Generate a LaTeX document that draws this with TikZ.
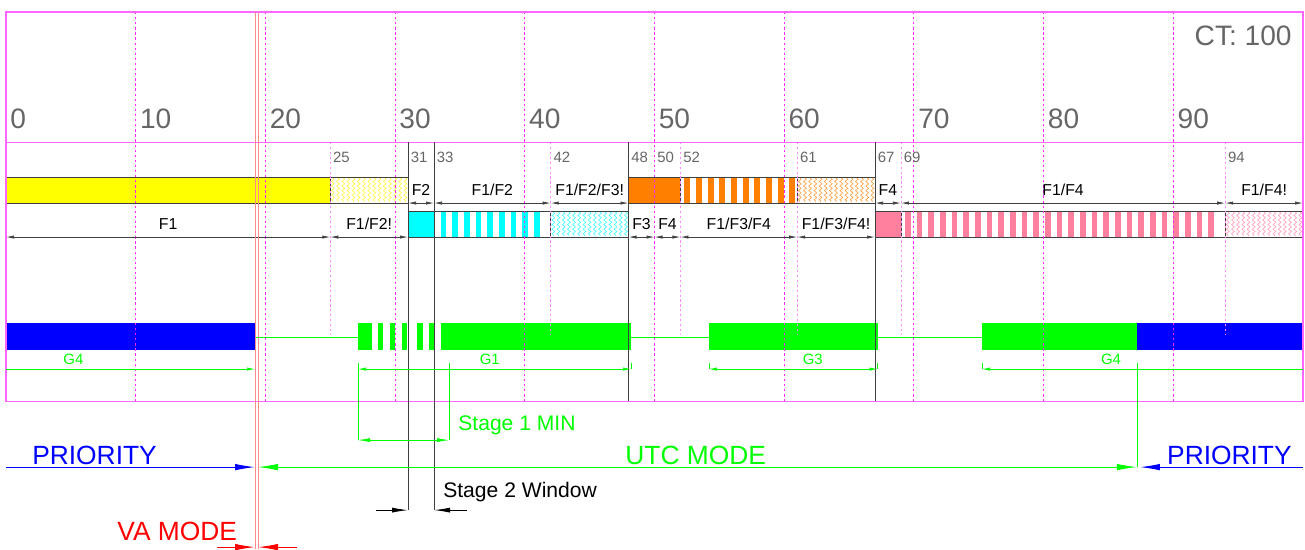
\documentclass[tikz,border=0pt]{standalone}
\usepackage{fontspec}
\setmainfont{Liberation Sans}
\usetikzlibrary{arrows.meta,decorations.pathmorphing}
\definecolor{ChartFrame}{HTML}{FF66FF}
\definecolor{ChartGrid}{HTML}{FF22FF}
\definecolor{ChartGridLight}{HTML}{FF88FF}
\definecolor{ChartEdge}{HTML}{404040}
\definecolor{ChartNum}{HTML}{666666}
\definecolor{PhYellow}{HTML}{FFFF00}
\definecolor{PhOrange}{HTML}{FF8000}
\definecolor{PhCyan}{HTML}{00FFFF}
\definecolor{PhPink}{HTML}{FF7F9F}
\definecolor{SigGreen}{HTML}{00FF00}
\definecolor{SigBlue}{HTML}{0000FF}
\definecolor{VaRed}{HTML}{FF0000}
\definecolor{VaLine}{HTML}{FF8A8A}
\newcommand{\ChartBig}{\fontsize{16}{18}\selectfont}
\newcommand{\ChartTick}{\fontsize{8.5}{10}\selectfont}
\newcommand{\ChartPhase}{\fontsize{9}{10.5}\selectfont}
\newcommand{\ChartGroup}{\fontsize{8.5}{10}\selectfont}
\newcommand{\ChartStage}{\fontsize{12}{14}\selectfont}
\newcommand{\ChartMode}{\fontsize{15}{17}\selectfont}
% #1 first stripe, #2 last index, #3 colour, #4 top edge
\newcommand{\StripeFill}[4]{%
  \foreach \s [evaluate=\s as \x using #1+0.9*\s] in {0,...,#2}
    \fill[#3] (\x,#4) rectangle ++(0.45,26);}
\newcommand{\HatchFill}[4]{%
  \foreach \s [evaluate=\s as \x using #1+0.4*\s] in {0,...,#2}
    \draw[hatchline=#3] (\x,#4+1) -- (\x,#4+25);}
\tikzset{
  chartframe/.style={draw=ChartFrame, line width=0.6pt},
  gridline/.style={draw=ChartGrid, line width=0.6pt, dash pattern=on 1.3pt off 1.6pt},
  gridlight/.style={draw=ChartGridLight, line width=0.5pt, dash pattern=on 1.2pt off 1.6pt},
  baredge/.style={draw=ChartEdge, line width=0.4pt},
  stageline/.style={draw=ChartEdge, line width=0.5pt},
  hatchline/.style={
    draw=#1!75,
    line width=0.35pt,
    decorate,
    decoration={zigzag, segment length=2.6pt, amplitude=0.8pt}
  },
  phasedim/.style={
    {Latex[length=1.6mm,width=0.65mm]}-{Latex[length=1.6mm,width=0.65mm]},
    draw=ChartEdge,
    line width=0.4pt
  },
  sigdim/.style={
    draw=SigGreen,
    line width=0.4pt,
    arrows={-Latex[length=1.6mm,width=0.65mm]}
  },
  sigline/.style={draw=SigGreen, line width=0.5pt},
  modearrow/.style={-{Latex[length=4mm,width=1.3mm]}, line width=0.6pt},
  stagearrow/.style={-{Latex[length=3.2mm,width=1mm]}, draw=black, line width=0.5pt},
  bignum/.style={font=\ChartBig, text=ChartNum, anchor=west, inner sep=0pt, xshift=0.08cm},
  ticknum/.style={font=\ChartTick, text=ChartNum, anchor=west, inner sep=0pt, xshift=0.05cm},
  phaselabel/.style={font=\ChartPhase, text=black, inner sep=0pt},
  grouplabel/.style={font=\ChartGroup, text=SigGreen, inner sep=0pt},
  stagelabel/.style={font=\ChartStage, anchor=base west, inner sep=0pt},
  modelabel/.style={font=\ChartMode, anchor=west, inner sep=0pt}
}

\begin{document}
\begin{tikzpicture}[x=0.2594cm,y=-0.02cm]
\useasboundingbox (-0.4626,0) rectangle (100.154,549);

% upper phase ring
\fill[PhYellow] (0,177) rectangle (25,203);
\HatchFill{25.2}{14}{PhYellow}{177}
\fill[PhOrange] (48,177) rectangle (52,203);
\StripeFill{52.3}{9}{PhOrange}{177}
\HatchFill{61.2}{14}{PhOrange}{177}
\draw[baredge] (0,177) rectangle (31,203) (25,177) -- (25,203);
\draw[baredge] (48,177) rectangle (67,203) (52,177) -- (52,203) (61,177) -- (61,203);

% lower phase ring
\fill[PhCyan] (31,211) rectangle (33,237);
\StripeFill{33.5}{8}{PhCyan}{211}
\HatchFill{42.2}{14}{PhCyan}{211}
\fill[PhPink] (67,211) rectangle (69,237);
\StripeFill{69.3}{26}{PhPink}{211}
\HatchFill{94.2}{14}{PhPink}{211}
\draw[baredge] (31,211) rectangle (48,237) (33,211) -- (33,237) (42,211) -- (42,237);
\draw[baredge] (67,211) rectangle (100,237) (69,211) -- (69,237) (94,211) -- (94,237);

% signal groups
\fill[SigBlue] (0,323) rectangle (19.2,350);
\foreach \a/\b in {27.14/28.22,28.68/29.07,29.61/29.99,30.53/30.92,31.69/32.15,32.61/33.0}
  \fill[SigGreen] (\a,323) rectangle (\b,350);
\fill[SigGreen] (33.54,323) rectangle (48.2,350);
\fill[SigGreen] (54.2,323) rectangle (67.2,350);
\fill[SigGreen] (75.25,323) rectangle (87.2,350);
\fill[SigBlue] (87.2,323) rectangle (100,350);
\draw[sigline] (19.2,337) -- (27.14,337) (48.2,337) -- (54.2,337) (67.2,337) -- (75.25,337);

% grid
\foreach \t in {10,20,...,90}
  \draw[gridline] (\t,12) -- (\t,401);
\foreach \t in {25,42,52,61,69,94}
  \draw[gridlight] (\t,142) -- (\t,335);
\draw[chartframe] (0,12) rectangle (100,401);
\draw[chartframe] (0,142) -- (100,142);

\foreach \t in {0,10,...,90}
  \node[bignum] (big\t) at (\t,119) {\t};
\node[font=\ChartBig, text=ChartNum, anchor=east, inner sep=0pt] (cycle) at (99.15,36) {CT: 100};
\foreach \t in {25,31,33,42,48,50,52,61,67,69,94}
  \node[ticknum] (tick\t) at (\t,157) {\t};

% phase boundaries
\draw[stageline] (31,142) -- (31,510);
\draw[stageline] (33,142) -- (33,510);
\draw[stageline] (48,142) -- (48,401);
\draw[stageline] (67,142) -- (67,401);

% phase durations
\foreach \a/\b in {31/33,33/42,42/48,67/69,69/94,94/100}
  \draw[phasedim] (\a,203) -- (\b,203);
\foreach \a/\b in {0/25,25/31,48/50,50/52,52/61,61/67}
  \draw[phasedim] (\a,237) -- (\b,237);
\node[phaselabel] (upF2) at (32,190) {F2};
\node[phaselabel] (upF1F2) at (37.5,190) {F1/F2};
\node[phaselabel] (upF1F2F3) at (45,190) {F1/F2/F3!};
\node[phaselabel] (upF4) at (68,190) {F4};
\node[phaselabel] (upF1F4) at (81.5,190) {F1/F4};
\node[phaselabel] (upF1F4x) at (97,190) {F1/F4!};
\node[phaselabel] (loF1) at (12.5,224) {F1};
\node[phaselabel] (loF1F2) at (28,224) {F1/F2!};
\node[phaselabel] (loF3) at (49,224) {F3};
\node[phaselabel] (loF4) at (51,224) {F4};
\node[phaselabel] (loF1F3F4) at (56.5,224) {F1/F3/F4};
\node[phaselabel] (loF1F3F4x) at (64,224) {F1/F3/F4!};

% group durations
\draw[sigline] (27.14,363) -- (27.14,440) (34.16,363) -- (34.16,440);
\draw[sigline] (48.2,363) -- (48.2,369) (54.2,363) -- (54.2,369)
  (67.2,363) -- (67.2,369) (75.25,363) -- (75.25,369);
\draw[sigline] (19.43,363) -- (19.43,467) (87.2,363) -- (87.2,467);
\draw[sigdim] (0,369) -- (19.2,369);
\draw[sigdim, arrows={Latex[length=1.6mm,width=0.65mm]-Latex[length=1.6mm,width=0.65mm]}] (27.14,369) -- (48.2,369);
\draw[sigdim, arrows={Latex[length=1.6mm,width=0.65mm]-Latex[length=1.6mm,width=0.65mm]}] (54.2,369) -- (67.2,369);
\draw[sigdim, arrows={Latex[length=1.6mm,width=0.65mm]-}] (75.25,369) -- (100,369);
\draw[sigdim, arrows={Latex[length=2.4mm,width=0.8mm]-Latex[length=2.4mm,width=0.8mm]}] (27.14,440) -- (34.16,440);
\node[grouplabel] (gfour) at (5.2,359) {G4};
\node[grouplabel] (gone) at (37.3,359) {G1};
\node[grouplabel] (gthree) at (62.2,359) {G3};
\node[grouplabel] (gfourb) at (85.2,359) {G4};
\node[stagelabel, text=SigGreen] (stageone) at (34.85,430) {Stage 1 MIN};

% stage 2 window
\coordinate (winL) at (28.53,510);
\coordinate (winR) at (35.54,510);
\draw[stagearrow] (winL) -- (31,510);
\draw[stagearrow] (winR) -- (33,510);
\node[stagelabel, text=black] (stagetwo) at (33.69,497) {Stage 2 Window};

% control modes
\draw[VaLine, line width=0.5pt] (19.2,12) -- (19.2,549) (19.43,12) -- (19.43,549);
\coordinate (vaL) at (19.2,467);
\coordinate (vaR) at (19.43,467);
\coordinate (utcEnd) at (87.2,467);
\coordinate (priEnd) at (87.43,467);
\draw[modearrow, draw=SigBlue, fill=SigBlue] (0,467) -- (vaL);
\draw[modearrow, {Latex[length=4mm,width=1.3mm]}-{Latex[length=4mm,width=1.3mm]}, draw=SigGreen, fill=SigGreen] (vaR) -- (utcEnd);
\draw[modearrow, draw=SigBlue, fill=SigBlue] (100,467) -- (priEnd);
\draw[modearrow, draw=VaRed, fill=VaRed] (16.27,547) -- (19.2,547);
\draw[modearrow, draw=VaRed, fill=VaRed] (22.44,547) -- (19.43,547);
\node[modelabel, text=SigBlue] (priL) at (2.0,455) {PRIORITY};
\node[modelabel, text=SigGreen] (utc) at (47.73,455) {UTC MODE};
\node[modelabel, text=SigBlue] (priR) at (89.5,455) {PRIORITY};
\node[modelabel, text=VaRed] (va) at (8.56,531) {VA MODE};

\end{tikzpicture}
\end{document}
